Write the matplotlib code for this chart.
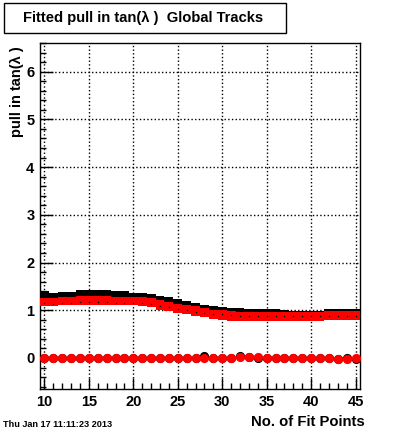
import numpy as np
import matplotlib
matplotlib.use("Agg")
from matplotlib import pyplot as plt
from matplotlib.ticker import MultipleLocator

# データ（フィット点数ごとの値）
fit_points = list(range(10, 46))

# 黒：RMS 上端と平均値
black_top = [1.40, 1.37, 1.39, 1.39, 1.43, 1.43, 1.43, 1.42, 1.40, 1.40,
             1.37, 1.37, 1.35, 1.30, 1.28, 1.23, 1.20, 1.16, 1.12, 1.09,
             1.06, 1.045, 1.04, 1.02, 1.02, 1.02, 1.02, 1.00, 0.99, 0.99,
             0.99, 0.99, 1.02, 1.02, 1.02, 1.02]
black_mean = [1.15, 1.14, 1.16, 1.16, 1.18, 1.18, 1.18, 1.18, 1.16, 1.16,
              1.16, 1.15, 1.13, 1.09, 1.06, 1.03, 1.00, 0.97, 0.94, 0.93,
              0.92, 0.90, 0.89, 0.88, 0.88, 0.88, 0.88, 0.88, 0.88, 0.88,
              0.88, 0.88, 0.88, 0.88, 0.88, 0.88]

# 赤：フィット値と誤差
red_mean = [1.175, 1.17, 1.19, 1.19, 1.21, 1.21, 1.21, 1.21, 1.19, 1.19,
            1.19, 1.18, 1.16, 1.11, 1.075, 1.045, 1.02, 0.985, 0.95, 0.915,
            0.90, 0.88, 0.875, 0.875, 0.875, 0.875, 0.875, 0.875, 0.875, 0.875,
            0.875, 0.875, 0.885, 0.885, 0.885, 0.885]
red_err = [0.085, 0.085, 0.09, 0.09, 0.09, 0.09, 0.09, 0.09, 0.09, 0.09,
           0.09, 0.09, 0.10, 0.10, 0.095, 0.095, 0.095, 0.095, 0.095, 0.095,
           0.095, 0.095, 0.095, 0.095, 0.095, 0.095, 0.095, 0.095, 0.095, 0.095,
           0.095, 0.095, 0.095, 0.095, 0.095, 0.095]

# ゼロ付近の平均値
black_zero = [0.0, 0.0, 0.0, 0.0, 0.0, 0.0, 0.0, 0.0, 0.0, 0.0,
              0.0, 0.0, 0.0, 0.0, 0.0, 0.0, 0.0, 0.0, 0.04, 0.0,
              0.0, 0.0, 0.05, 0.02, 0.01, 0.0, 0.0, 0.0, 0.0, 0.0,
              0.0, 0.0, 0.0, -0.03, -0.01, -0.03]
red_zero = [0.0, 0.0, 0.0, 0.0, 0.0, 0.0, 0.0, 0.0, 0.0, 0.0,
            0.0, 0.0, 0.0, 0.0, 0.0, 0.0, 0.0, 0.0, 0.01, 0.0,
            0.0, 0.01, 0.02, 0.03, 0.02, 0.01, 0.0, 0.0, 0.0, 0.0,
            0.0, 0.0, -0.01, -0.02, -0.02, -0.01]

plt.rcParams['font.family'] = ['Liberation Sans', 'DejaVu Sans']
plt.rcParams['font.weight'] = 'bold'

fig = plt.figure(figsize=(4.0, 4.33), dpi=100)
ax = fig.add_axes([0.10, 0.1016, 0.80, 0.7991])

x = np.array(fit_points)
bt = np.array(black_top)
bm = np.array(black_mean)
rm = np.array(red_mean)
re = np.array(red_err)

# 黒の箱（下側は赤で隠れる）
ax.bar(x, bt - bm, bottom=bm, width=1.0, color='black', linewidth=0, zorder=2)
# 赤の箱
ax.bar(x, 2 * re, bottom=rm - re, width=1.0, color='red', linewidth=0, zorder=3)
# 黒の平均点
ax.plot(x, bm, ls='none', marker='s', ms=0.9, color='black', mew=0, zorder=4)

# ゼロ付近の点
ax.plot(x, black_zero, ls='none', marker='o', ms=6.6, color='black', mew=0, zorder=5)
ax.plot(x, red_zero, ls='none', marker='o', ms=6.6, color='red', mew=0, zorder=6)

ax.set_xlim(9.5, 45.5)
ax.set_ylim(-0.65, 6.6)

ax.xaxis.set_major_locator(MultipleLocator(5))
ax.xaxis.set_minor_locator(MultipleLocator(1))
ax.yaxis.set_major_locator(MultipleLocator(1))
ax.yaxis.set_minor_locator(MultipleLocator(0.2))

ax.grid(True, which='major', ls=':', color='black', lw=1.0)
ax.set_axisbelow(True)

ax.tick_params(which='both', direction='in', top=False, right=False,
               labelsize=10.5, width=1, color='black')
ax.tick_params(axis='x', which='major', length=8, pad=4)
ax.tick_params(axis='x', which='minor', length=4)
ax.tick_params(axis='y', which='major', length=9, pad=4)
ax.tick_params(axis='y', which='minor', length=4)
for lab in ax.get_xticklabels() + ax.get_yticklabels():
    lab.set_fontweight('bold')

for s in ax.spines.values():
    s.set_linewidth(1.0)
    s.set_color('black')

# 軸ラベル
fig.text(0.912, 0.025, 'No. of Fit Points', ha='right', va='center',
         fontsize=10.7, fontweight='bold')
fig.text(0.042, 0.893, 'pull in tan(λ )', ha='center', va='top',
         rotation=90, fontsize=10.5, fontweight='bold')

# タイトル枠
fig.text(0.358, 0.9585, 'Fitted pull in tan(λ )  Global Tracks',
         ha='center', va='center', fontsize=10.6, fontweight='bold',
         bbox=dict(boxstyle='square,pad=0', fc='white', ec='none'))
fig.patches.append(plt.Rectangle((0.01, 0.924), 0.705, 0.0695, fill=False,
                                 ec='black', lw=1.0, transform=fig.transFigure,
                                 figure=fig))

# 日付
fig.text(0.008, 0.02, 'Thu Jan 17 11:11:23 2013', ha='left', va='center',
         fontsize=6.6, fontweight='bold')

fig.savefig('out.png', dpi=100)
